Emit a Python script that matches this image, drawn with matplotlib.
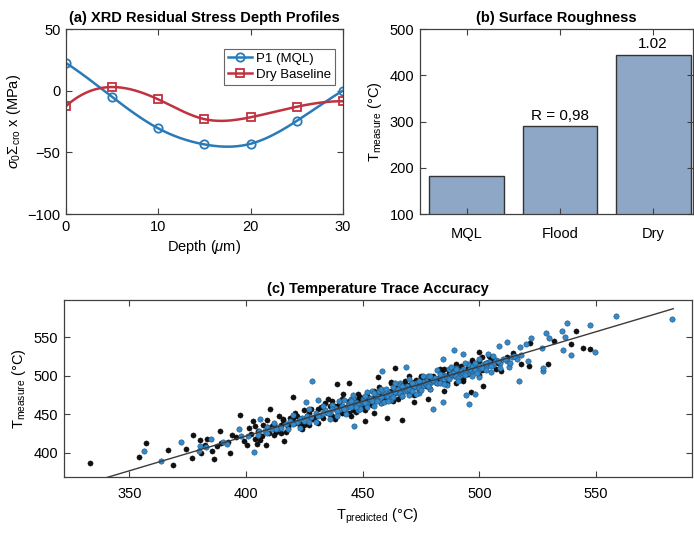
import numpy as np
import matplotlib.pyplot as plt

# =========================
# 1. Data
# =========================

depth_um = [0, 5, 10, 15, 20, 25, 30]
stress_p1_mql = [22.5, -5, -30.5, -43.5, -43, -24.5, 0]
stress_dry = [-12.5, 3, -7, -23, -21.5, -13, -8.5]

cooling_labels = ["MQL", "Flood", "Dry"]
t_measure_bar = [183, 290, 444]
bar_notes = ["", "R = 0,98", "1.02"]

# black scatter series (T_predicted, T_measure)
black_pred = [
    333.3, 354.3, 357.3, 366.5, 368.7, 374.4, 376.9, 377.5, 380.2, 380.6, 382.6, 383.5,
    386.3, 385.5, 387.5, 388.9, 389.2, 393.2, 392.4, 393.9, 395.6, 397.3, 399.2, 400.3,
    404.6, 403.1, 401.3, 407.1, 408.6, 410.3, 416.4, 420.2, 439.2, 444.0, 450.9, 466.9,
    460.5, 463.7, 456.5, 441.6, 492.9, 496.4, 501.7, 500.0, 509.3, 514.2, 517.8, 521.4,
    521.6, 529.2, 531.8, 539.2, 541.3, 544.5, 547.3,
    402, 404, 405, 407, 409, 410, 412, 413, 415, 416, 418, 419, 421, 422, 424, 425,
    427, 428, 430, 431, 433, 434, 436, 437, 439, 440, 441, 443, 444, 446, 447, 448,
    450, 451, 452, 454, 455, 456, 458, 459, 460, 462, 463, 464, 466, 467, 468, 470,
    471, 472, 474, 475, 476, 478, 479, 480, 482, 483, 484, 486, 487, 488, 490, 491,
    492, 494, 495, 496, 498, 499, 500, 502, 503, 505, 501, 497,
    445, 455, 472, 485, 478, 435, 425, 415, 470, 462,
    411, 413, 416, 418, 420, 423, 426, 429, 432, 435, 438, 442, 445, 449, 453, 457,
    461, 465, 469, 473, 477, 481, 485, 489, 493, 497, 501, 504, 508, 512, 457, 447,
    463, 475, 485, 490, 437, 427, 466, 470, 459, 452, 444, 436, 482, 487, 495,
    404, 406, 409, 412, 414, 417, 421, 424, 428, 431, 434, 438, 441, 444, 448, 451,
    455, 458, 462, 465, 468, 472, 475, 479, 483, 486, 490, 493, 497, 500, 504, 507,
]
black_meas = [
    386.0, 394.4, 412.6, 403.5, 383.5, 404.3, 392.6, 423.0, 416.5, 399.0, 410.4, 417.3,
    391.8, 402.6, 409.1, 428.2, 412.6, 399.1, 413.4, 423.0, 420.8, 449.3, 415.6, 410.0,
    411.3, 440.7, 431.6, 436.0, 410.4, 456.7, 415.6, 471.8, 488.7, 490.9, 441.6, 442.9,
    444.6, 510.0, 498.7, 476.2, 493.5, 478.3, 487.0, 530.3, 506.5, 529.0, 515.2, 513.0,
    542.0, 515.2, 544.6, 541.2, 558.4, 536.0, 534.7,
    424, 418, 428, 422, 433, 426, 437, 429, 436, 442, 433, 445, 438, 447, 441, 436,
    452, 444, 449, 457, 445, 454, 460, 448, 456, 463, 452, 459, 467, 455, 463, 470,
    461, 468, 474, 462, 471, 478, 468, 475, 470, 480, 472, 484, 476, 482, 489, 479,
    486, 492, 483, 490, 497, 487, 494, 500, 491, 498, 504, 495, 502, 508, 499, 506,
    512, 503, 510, 515, 507, 514, 519, 511, 516, 522, 524, 520,
    447, 452, 466, 480, 470, 470, 455, 425, 500, 492,
    434, 427, 444, 436, 445, 435, 447, 444, 459, 452, 460, 452, 463, 472, 466, 475,
    471, 484, 482, 494, 486, 496, 494, 505, 504, 514, 507, 518, 516, 524, 485, 453,
    467, 500, 508, 491, 467, 436, 482, 488, 474, 472, 465, 450, 495, 506, 502,
    435, 416, 442, 423, 447, 427, 452, 431, 457, 439, 465, 444, 469, 452, 476, 455,
    480, 464, 490, 469, 493, 475, 498, 483, 508, 490, 515, 496, 517, 501, 526, 509,
]

# blue scatter series (T_predicted, T_measure)
blue_pred = [
    356.4, 363.4, 372.1, 380.2, 379.8, 382.9, 385.0, 390.0, 391.8, 396.9, 397.9, 403.3,
    400.7, 406.0, 405.7, 408.9, 428.3, 425.9, 430.9, 446.3, 458.3, 468.6, 484.6, 489.0,
    492.9, 503.6, 505.0, 497.9, 494.3, 499.7, 484.3, 480.3, 495.7, 511.7, 508.3, 512.8,
    515.7, 517.4, 517.1, 519.9, 521.0, 522.0, 526.8, 527.4, 527.4, 528.5, 529.9, 535.3,
    536.5, 535.6, 537.3, 539.2, 547.3, 549.4, 558.4, 582.3,
    405, 408, 411, 414, 417, 419, 422, 424, 426, 428, 430, 432, 434, 436, 438, 440,
    441, 443, 444, 446, 447, 449, 450, 452, 453, 455, 456, 457, 459, 460, 461, 463,
    464, 465, 467, 468, 469, 471, 472, 473, 475, 476, 477, 479, 480, 481, 483, 484,
    485, 487, 488, 489, 491, 492, 493, 495, 496, 497, 499, 500, 502, 503, 504, 506,
    507, 509, 510, 512, 514, 516, 518,
    448, 458, 466, 474, 486, 454, 462, 470, 478, 490, 445, 437, 427, 418, 412,
    431, 433, 435, 437, 439, 441, 442, 444, 445, 447, 448, 450, 451, 453, 454, 456,
    457, 458, 460, 461, 462, 464, 465, 466, 468, 469, 470, 472, 473, 474, 476, 477,
    478, 480, 481, 482, 484, 485, 486, 488, 489, 490, 492, 493, 494, 496, 497, 498,
    500, 501, 503, 505, 508, 511, 513, 515,
    442, 449, 455, 459, 463, 467, 471, 475, 479, 483, 487, 491, 495, 499, 439, 446,
    452, 457, 462, 466, 420, 423, 425, 415, 409, 413,
    420, 423, 427, 430, 433, 436, 440, 443, 446, 449, 452, 455, 458, 461, 464, 467,
    470, 473, 476, 479, 482, 485, 488, 491, 494, 497, 500, 503, 506, 509,
    445, 447, 451, 456, 460, 463, 467, 471, 474, 478, 483, 487, 490, 494, 498,
]
blue_meas = [
    401.7, 388.7, 413.4, 409.0, 402.6, 406.9, 417.8, 413.4, 411.2, 430.3, 422.1, 400.9,
    421.2, 444.2, 428.6, 432.9, 492.6, 465.3, 468.4, 434.2, 505.6, 511.7, 521.7, 533.4,
    528.2, 528.2, 504.3, 476.2, 474.9, 497.8, 465.3, 456.7, 463.3, 543.3, 539.0, 510.8,
    523.8, 536.8, 492.6, 541.2, 518.6, 549.0, 536.0, 506.5, 510.0, 555.0, 549.0, 558.4,
    550.6, 533.4, 568.8, 526.9, 566.2, 531.2, 577.0, 573.6,
    423, 428, 431, 433, 437, 441, 440, 445, 448, 446, 451, 449, 455, 452, 458, 455,
    461, 458, 464, 461, 466, 463, 469, 465, 471, 468, 474, 470, 476, 473, 479, 475,
    481, 477, 483, 480, 486, 482, 488, 485, 491, 487, 493, 490, 496, 492, 498, 494,
    501, 497, 503, 499, 505, 501, 508, 504, 510, 506, 512, 508, 515, 511, 518, 514,
    520, 517, 522, 519, 524, 521, 527,
    455, 464, 490, 478, 488, 480, 468, 475, 500, 510, 470, 462, 440, 430, 438,
    448, 452, 451, 457, 454, 460, 457, 462, 459, 465, 462, 467, 464, 470, 467, 473,
    468, 472, 477, 474, 476, 479, 482, 478, 484, 481, 483, 486, 490, 484, 492, 489,
    491, 494, 497, 491, 499, 496, 498, 502, 505, 500, 506, 503, 505, 509, 512, 507,
    513, 510, 516, 513, 519, 521, 517, 526,
    468, 458, 478, 466, 485, 474, 491, 481, 499, 490, 509, 497, 515, 504, 448, 471,
    459, 480, 470, 488, 437, 443, 441, 432, 425, 430,
    449, 432, 457, 440, 461, 443, 467, 450, 475, 457, 479, 460, 483, 467, 490, 473,
    495, 476, 499, 483, 507, 489, 511, 493, 516, 499, 522, 507, 526, 510,
    467, 459, 474, 467, 482, 472, 487, 480, 493, 486, 502, 495, 509, 501, 516,
]

# linear fit drawn through the cloud
fit_slope = 0.904
fit_intercept = 59.9
fit_range = [333.0, 583.0]

# =========================
# 2. Helpers / style
# =========================

plt.rcParams["font.family"] = ["Liberation Sans", "DejaVu Sans"]
plt.rcParams["mathtext.fontset"] = "custom"
plt.rcParams["mathtext.rm"] = "Liberation Sans"
plt.rcParams["mathtext.it"] = "Liberation Sans:italic"
plt.rcParams["font.size"] = 10.5
AX_GRAY = "#404040"


def spline_curve(x, y, n=300):
    """Not-a-knot cubic spline through (x, y), like MATLAB's spline()."""
    x = np.asarray(x, float)
    y = np.asarray(y, float)
    k = len(x)
    h = np.diff(x)
    A = np.zeros((k, k))
    b = np.zeros(k)
    A[0, 0], A[0, 1], A[0, 2] = h[1], -(h[0] + h[1]), h[0]
    A[-1, -3], A[-1, -2], A[-1, -1] = h[-1], -(h[-2] + h[-1]), h[-2]
    for i in range(1, k - 1):
        A[i, i - 1] = h[i - 1]
        A[i, i] = 2 * (h[i - 1] + h[i])
        A[i, i + 1] = h[i]
        b[i] = 6 * ((y[i + 1] - y[i]) / h[i] - (y[i] - y[i - 1]) / h[i - 1])
    M = np.linalg.solve(A, b)
    xs = np.linspace(x[0], x[-1], n)
    idx = np.clip(np.searchsorted(x, xs) - 1, 0, k - 2)
    x0, x1 = x[idx], x[idx + 1]
    hh = x1 - x0
    ys = (M[idx] * (x1 - xs) ** 3 / (6 * hh) + M[idx + 1] * (xs - x0) ** 3 / (6 * hh)
          + (y[idx] / hh - M[idx] * hh / 6) * (x1 - xs)
          + (y[idx + 1] / hh - M[idx + 1] * hh / 6) * (xs - x0))
    return xs, ys


def matlab_axes(ax):
    for s in ax.spines.values():
        s.set_color(AX_GRAY)
        s.set_linewidth(0.9)
    ax.tick_params(direction="in", top=True, right=True, length=4,
                   color=AX_GRAY, labelsize=10.5, pad=4)


fig = plt.figure(figsize=(6.94, 5.38), dpi=100)

# =========================
# 3. (a) residual stress profiles
# =========================

ax1 = fig.add_axes([0.095, 0.602, 0.399, 0.344])
blue = "#2a7ab8"
red = "#c0323f"
xs, ys = spline_curve(depth_um, stress_p1_mql)
ax1.plot(xs, ys, color=blue, lw=1.8)
ax1.plot(depth_um, stress_p1_mql, "o", mfc="none", mec=blue, ms=6, mew=1.3)
xs, ys = spline_curve(depth_um, stress_dry)
ax1.plot(xs, ys, color=red, lw=1.8)
ax1.plot(depth_um, stress_dry, "s", mfc="none", mec=red, ms=6, mew=1.3)
# legend proxies
ax1.plot([], [], "-o", color=blue, mfc="none", ms=6, mew=1.3, lw=1.8, label="P1 (MQL)")
ax1.plot([], [], "-s", color=red, mfc="none", ms=6, mew=1.3, lw=1.8, label="Dry Baseline")
ax1.set_xlim(0, 30)
ax1.set_ylim(-100, 50)
ax1.set_xticks([0, 10, 20, 30])
ax1.set_yticks([-100, -50, 0, 50])
ax1.set_xlabel(r"Depth ($\mu$m)", fontsize=10.5, labelpad=3)
ax1.set_ylabel(r"$\sigma_0\Sigma_{\rm cro}$ x (MPa)", fontsize=10.5, labelpad=3)
ax1.set_title("(a) XRD Residual Stress Depth Profiles", fontsize=10.5, fontweight="bold", pad=5)
leg = ax1.legend(loc="upper right", fontsize=9.5, handlelength=1.8, borderpad=0.3,
                 labelspacing=0.3, handletextpad=0.3, fancybox=False,
                 bbox_to_anchor=(0.995, 0.93))
leg.get_frame().set_edgecolor(AX_GRAY)
leg.get_frame().set_linewidth(0.8)
matlab_axes(ax1)

# =========================
# 4. (b) bar chart
# =========================

ax2 = fig.add_axes([0.605, 0.602, 0.394, 0.344])
pos = np.arange(1, len(cooling_labels) + 1)
ax2.bar(pos, t_measure_bar, width=0.8, bottom=0, color="#8fa7c6",
        edgecolor="#333333", linewidth=1.0)
for p, h, note in zip(pos, t_measure_bar, bar_notes):
    if note:
        ax2.text(p, h + 8, note, ha="center", va="bottom", fontsize=11)
ax2.set_xlim(0.5, 3.43)
ax2.set_ylim(100, 500)
ax2.set_xticks(pos)
ax2.set_xticklabels(cooling_labels)
ax2.set_yticks([100, 200, 300, 400, 500])
ax2.set_ylabel(r"T$_{\rm measure}$ (°C)", fontsize=10.5)
ax2.set_title("(b) Surface Roughness", fontsize=10.5, fontweight="bold", pad=5)
matlab_axes(ax2)
ax2.tick_params(axis="x", pad=9)

# =========================
# 5. (c) scatter
# =========================

ax3 = fig.add_axes([0.092, 0.113, 0.905, 0.329])
ax3.scatter(black_pred, black_meas, s=14, color="#111111", edgecolors="#000000",
            linewidths=0.3, zorder=2)
ax3.scatter(blue_pred, blue_meas, s=15, color="#3389c9", edgecolors="#1d4a72",
            linewidths=0.35, zorder=3)
fx = np.array(fit_range)
ax3.plot(fx, fit_slope * fx + fit_intercept, color="#3a3a3a", lw=1.0, zorder=4)
ax3.set_xlim(322, 591)
ax3.set_ylim(368, 598)
ax3.set_xticks([350, 400, 450, 500, 550])
ax3.set_yticks([400, 450, 500, 550])
ax3.set_xlabel(r"T$_{\rm predicted}$ (°C)", fontsize=10.5)
ax3.set_ylabel(r"T$_{\rm measure}$ (°C)", fontsize=10.5)
ax3.set_title("(c) Temperature Trace Accuracy", fontsize=10.5, fontweight="bold", pad=5)
matlab_axes(ax3)
ax3.tick_params(axis="x", pad=7)

fig.savefig("out.png", dpi=100)
plt.close(fig)
